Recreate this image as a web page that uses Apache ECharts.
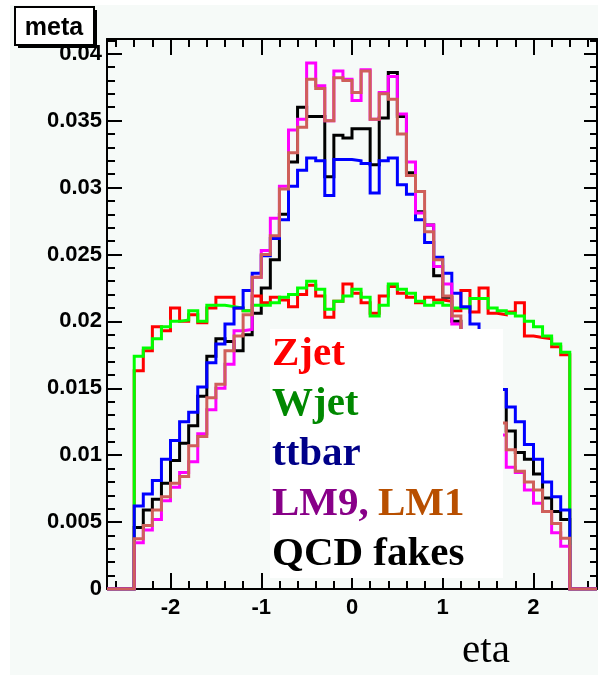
<!DOCTYPE html>
<html>
<head>
<meta charset="utf-8">
<script src="https://cdn.jsdelivr.net/npm/echarts@6/dist/echarts.min.js"></script>
<style>
  html, body { margin: 0; padding: 0; background: #ffffff; }
  #chart { width: 598px; height: 675px; }
</style>
</head>
<body>
<div id="chart"></div>
<script>
// ---- histogram binning: 48 bins of 0.1 from -2.4 to 2.4 ----
const binLow = -2.4;
const binWidth = 0.1;
const axisMinX = -2.7, axisMaxX = 2.7;

// ---- series values (one value per bin) ----
const qcd = [0.0046,0.0059,0.0067,0.0079,0.0096,0.0109,0.0122,0.0144,0.0174,0.0187,0.0185,0.0178,
  0.0190,0.0206,0.0225,0.0246,0.0280,0.0319,0.0360,0.0353,0.0353,0.0308,0.0339,0.0337,
  0.0344,0.0344,0.0317,0.0352,0.0386,0.0353,0.0311,0.0282,0.0272,0.0234,0.0218,0.0200,
  0.0186,0.0176,0.0166,0.0157,0.0149,0.0118,0.0102,0.0097,0.0086,0.0068,0.0058,0.0052];
const zjet = [0.0163,0.0178,0.0196,0.0193,0.0210,0.0200,0.0205,0.0199,0.0210,0.0218,0.0218,0.0210,
  0.0208,0.0219,0.0214,0.0218,0.0216,0.0211,0.0220,0.0227,0.0219,0.0203,0.0215,0.0228,
  0.0221,0.0214,0.0206,0.0219,0.0226,0.0221,0.0218,0.0214,0.0218,0.0216,0.0215,0.0208,
  0.0223,0.0207,0.0225,0.0206,0.0205,0.0207,0.0214,0.0189,0.0188,0.0187,0.0181,0.0175];
const wjet = [0.0174,0.0180,0.0187,0.0196,0.0200,0.0201,0.0208,0.0200,0.0212,0.0212,0.0211,0.0210,
  0.0208,0.0212,0.0212,0.0214,0.0218,0.0220,0.0225,0.0230,0.0224,0.0209,0.0215,0.0219,
  0.0224,0.0218,0.0204,0.0212,0.0228,0.0224,0.0221,0.0215,0.0212,0.0214,0.0212,0.0210,
  0.0210,0.0217,0.0217,0.0210,0.0208,0.0206,0.0204,0.0200,0.0196,0.0189,0.0183,0.0177];
const ttbar = [0.0062,0.0071,0.0081,0.0097,0.0111,0.0125,0.0132,0.0151,0.0169,0.0183,0.0198,0.0210,
  0.0223,0.0236,0.0249,0.0262,0.0276,0.0301,0.0313,0.0322,0.0320,0.0294,0.0321,0.0321,
  0.0320,0.0318,0.0296,0.0320,0.0322,0.0302,0.0295,0.0276,0.0259,0.0248,0.0236,0.0221,
  0.0211,0.0198,0.0182,0.0166,0.0149,0.0136,0.0125,0.0108,0.0097,0.0080,0.0069,0.0059];
const lm9 = [0.00345,0.0044,0.0052,0.0066,0.0076,0.0087,0.0095,0.0116,0.0134,0.0150,0.0168,0.0193,
  0.0194,0.0233,0.0253,0.0277,0.0301,0.0343,0.0351,0.0393,0.0376,0.0350,0.0387,0.0381,
  0.0365,0.0388,0.0351,0.0371,0.0383,0.0355,0.0319,0.0281,0.0272,0.0241,0.0228,0.0198,
  0.0180,0.0162,0.0146,0.0131,0.0115,0.0091,0.0087,0.0074,0.0064,0.0058,0.0042,0.0032];
const lm1 = [0.00375,0.00475,0.0059,0.0069,0.0079,0.0084,0.0107,0.0114,0.0143,0.0153,0.0178,0.0189,
  0.0205,0.0233,0.0250,0.0264,0.0299,0.0326,0.0345,0.0381,0.0374,0.0350,0.0382,0.0380,
  0.0371,0.0387,0.0351,0.0370,0.0366,0.0340,0.0309,0.0297,0.0267,0.0246,0.0219,0.0204,
  0.0186,0.0167,0.0151,0.0138,0.0124,0.0104,0.0088,0.0080,0.0074,0.0058,0.0049,0.0038];

// ---- tick labels ----
const xMajorTicks = [-2, -1, 0, 1, 2];
const yMajorTicks = [0, 0.005, 0.01, 0.015, 0.02, 0.025, 0.03, 0.035, 0.04];
const yMax = 0.0411;

const xMinorTicks = [];
for (let k = -13; k <= 13; k++) { if (k % 5 !== 0) xMinorTicks.push(k * 0.2); }
const yMinorTicks = [];
for (let k = 1; k <= 41; k++) { if (k % 5 !== 0) yMinorTicks.push(k * 0.001); }

function toSteps(vals) {
  const pts = [[axisMinX, 0]];
  vals.forEach((v, i) => pts.push([binLow + i * binWidth, v]));
  pts.push([binLow + vals.length * binWidth, 0]);
  pts.push([axisMaxX, 0]);
  return pts;
}

const chart = echarts.init(document.getElementById('chart'), null, { renderer: 'canvas' });

const tickStyle = { color: '#000', width: 2 };
const lineStyleAxis = { color: '#000', width: 2 };
const labelFont = { fontFamily: 'Liberation Sans, Arial, sans-serif', fontWeight: 'bold', fontSize: 22, color: '#000' };

function xAxisDef(pos, major, withLine) {
  return {
    type: 'value', min: axisMinX, max: axisMaxX, position: pos,
    axisLine: { show: withLine, onZero: false, lineStyle: lineStyleAxis },
    axisTick: { show: true, inside: true, length: major ? 16 : 8,
      customValues: major ? xMajorTicks : xMinorTicks, lineStyle: tickStyle },
    axisLabel: (major && pos === 'bottom') ? Object.assign({ show: true, margin: 8,
      customValues: xMajorTicks, formatter: v => String(Math.round(v)) }, labelFont) : { show: false },
    splitLine: { show: false }, minorTick: { show: false }
  };
}
function yAxisDef(pos, major, withLine) {
  const len = pos === 'left' ? (major ? 15 : 8) : (major ? 13 : 7);
  return {
    type: 'value', min: 0, max: yMax, position: pos,
    axisLine: { show: withLine, onZero: false, lineStyle: lineStyleAxis },
    axisTick: { show: true, inside: true, length: len,
      customValues: major ? yMajorTicks : yMinorTicks, lineStyle: tickStyle },
    axisLabel: (major && pos === 'left') ? Object.assign({ show: true, margin: 5,
      customValues: yMajorTicks, formatter: v => (v === 0 ? '0' : String(+v.toFixed(3))) }, labelFont) : { show: false },
    splitLine: { show: false }, minorTick: { show: false }
  };
}

const seriesDefs = [
  { name: 'QCD fakes', data: qcd, color: '#000000' },
  { name: 'Zjet', data: zjet, color: '#ff0000' },
  { name: 'Wjet', data: wjet, color: '#00ff00' },
  { name: 'ttbar', data: ttbar, color: '#0000ff' },
  { name: 'LM9', data: lm9, color: '#ff00ff' },
  { name: 'LM1', data: lm1, color: '#cf5f5a' }
];

const legendFont = 'bold 41px "Liberation Serif", "Times New Roman", serif';

chart.setOption({
  animation: false,
  backgroundColor: '#f6faf8',
  grid: { left: 107, right: 1, top: 39, bottom: 86, containLabel: false },
  xAxis: [xAxisDef('bottom', true, true), xAxisDef('bottom', false, false),
          xAxisDef('top', true, true), xAxisDef('top', false, false)],
  yAxis: [yAxisDef('left', true, true), yAxisDef('left', false, false),
          yAxisDef('right', true, true), yAxisDef('right', false, false)],
  series: seriesDefs.map((s, i) => ({
    type: 'line', name: s.name, xAxisIndex: 0, yAxisIndex: 0,
    step: 'end', showSymbol: false, symbol: 'none', silent: true, z: 2 + i * 0.01,
    lineStyle: { color: s.color, width: 3, cap: 'butt', join: 'miter' },
    data: toSteps(s.data)
  })),
  graphic: [
    { type: 'rect', z: 1, silent: true, shape: { x: 0, y: 0, width: 598, height: 5 }, style: { fill: '#ffffff' } },
    { type: 'rect', z: 1, silent: true, shape: { x: 0, y: 0, width: 10, height: 675 }, style: { fill: '#ffffff' } },
    // title box with shadow
    { type: 'rect', z: 50, shape: { x: 18, y: 10, width: 79, height: 38 }, style: { fill: '#000' } },
    { type: 'rect', z: 51, shape: { x: 15, y: 7, width: 79, height: 38 }, style: { fill: '#ffffff', stroke: '#000', lineWidth: 2 } },
    { type: 'text', z: 52, style: { text: 'meta', x: 54, y: 28, textAlign: 'center', textVerticalAlign: 'middle',
      font: 'bold 25px "Liberation Sans", Arial, sans-serif', fill: '#000' } },
    // legend box
    { type: 'rect', z: 100, shape: { x: 270, y: 329, width: 233, height: 249 }, style: { fill: '#ffffff' } },
    { type: 'text', z: 101, style: { text: 'Zjet', x: 272, y: 354, textVerticalAlign: 'middle', font: legendFont, fill: '#ff0000' } },
    { type: 'text', z: 101, style: { text: 'Wjet', x: 272, y: 404, textVerticalAlign: 'middle', font: legendFont, fill: '#008800' } },
    { type: 'text', z: 101, style: { text: 'ttbar', x: 272, y: 454, textVerticalAlign: 'middle', font: legendFont, fill: '#000088' } },
    { type: 'text', z: 101, style: { text: 'LM9,', x: 272, y: 504, textVerticalAlign: 'middle', font: legendFont, fill: '#880088' } },
    { type: 'text', z: 101, style: { text: 'LM1', x: 378, y: 504, textVerticalAlign: 'middle', font: legendFont, fill: '#b84f00' } },
    { type: 'text', z: 101, style: { text: 'QCD fakes', x: 272, y: 554, textVerticalAlign: 'middle', font: legendFont, fill: '#000000' } },
    // x axis title
    { type: 'text', z: 101, style: { text: 'eta', x: 486, y: 651, textAlign: 'center', textVerticalAlign: 'middle',
      font: '41px "Liberation Serif", "Times New Roman", serif', fill: '#000' } }
  ]
});
</script>
</body>
</html>
